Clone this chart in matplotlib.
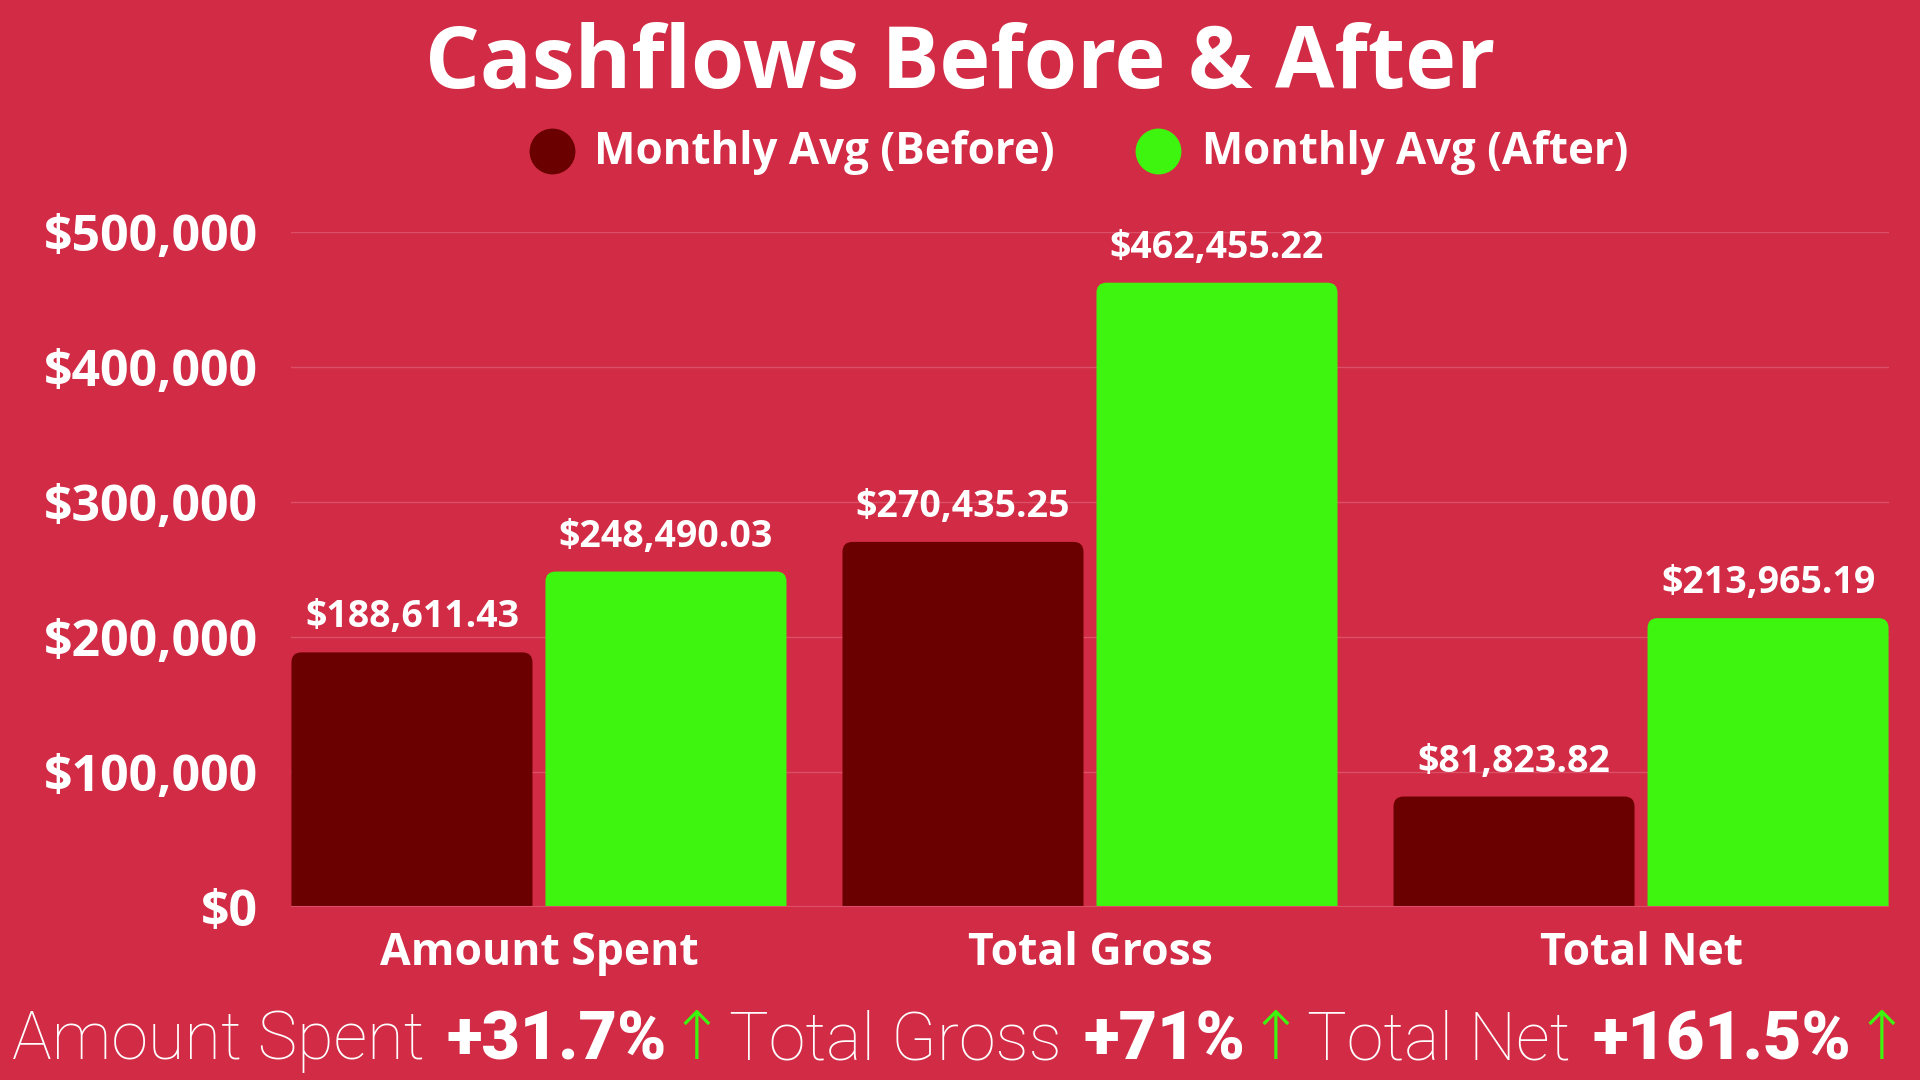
import matplotlib
matplotlib.use('Agg')
import matplotlib.pyplot as plt
from matplotlib.patches import FancyBboxPatch
from matplotlib.lines import Line2D
import numpy as np

# ---- data ----
categories = ['Amount Spent', 'Total Gross', 'Total Net']
before = [188611.43, 270435.25, 81823.82]
after = [248490.03, 462455.22, 213965.19]
series_names = ['Monthly Avg (Before)', 'Monthly Avg (After)']
pct_labels = ['+31.7%', '+71%', '+161.5%']
yticks = [0, 100000, 200000, 300000, 400000, 500000]
title = 'Cashflows Before & After'

BG = '#D22B45'
DARK = '#6B0000'
GREEN = '#3DF50F'
GRID = '#DB5068'
W, H = 1920, 1080

fig = plt.figure(figsize=(19.2, 10.8), dpi=100, facecolor=BG)
renderer = fig.canvas.get_renderer()

def fit(t, target_w):
    bb = t.get_window_extent(renderer)
    t.set_fontsize(t.get_fontsize() * target_w / bb.width)
    return t

ax = fig.add_axes([291 / W, 1 - 907 / H, 1598 / W, 675 / H])
ax.set_facecolor(BG)
x = np.arange(len(categories))
bw = 0.4374
off = 0.2305
ax.set_xlim(-0.45, 2.45)
ax.set_ylim(0, 500000)

bars_b = ax.bar(x - off, before, bw, color=DARK, zorder=2)
bars_a = ax.bar(x + off, after, bw, color=GREEN, zorder=2)

# rounded tops
rpx = 10
rx = rpx * 2.9 / 1598
ry = rpx * 500000 / 675
for bars, col in ((bars_b, DARK), (bars_a, GREEN)):
    for b in bars:
        bx, by, bwid, bh = b.get_x(), b.get_y(), b.get_width(), b.get_height()
        b.set_visible(False)
        p = FancyBboxPatch((bx, by - ry), bwid, bh + ry,
                           boxstyle=f"round,pad=0,rounding_size={rx}",
                           mutation_aspect=ry / rx, facecolor=col,
                           edgecolor='none', zorder=2)
        ax.add_patch(p)
        ax.annotate(f"${bh:,.2f}", (bx + bwid / 2, bh), xytext=(0, 18),
                    textcoords='offset points', ha='center', va='baseline',
                    color='white', fontsize=27, fontweight='bold',
                    family='Open Sans')

ax.set_yticks(yticks)
ax.set_yticklabels([f"${v:,.0f}" for v in yticks])
ax.yaxis.grid(True, color=GRID, lw=1)
ax.set_axisbelow(True)
for s in ax.spines.values():
    s.set_visible(False)
ax.axhline(0, color=GRID, lw=1.5, zorder=3)
ax.set_xticks(x)
ax.set_xticklabels(categories)
ax.tick_params(length=0, colors='white')
ax.tick_params(axis='y', pad=24)
ax.tick_params(axis='x', pad=17)
for lab in ax.get_yticklabels():
    lab.set_fontsize(36); lab.set_fontweight('bold'); lab.set_family('Open Sans')
for lab in ax.get_xticklabels():
    lab.set_fontsize(32); lab.set_fontweight('bold'); lab.set_family('Open Sans')

# title
t = fig.text(0.5, 1 - 88 / H, title, ha='center', va='baseline', color='white',
             fontsize=60, fontweight='bold', family='Open Sans')
fit(t, 1069)

# legend
leg = [(552, 594, 461, DARK, series_names[0]), (1158, 1202, 428, GREEN, series_names[1])]
for mx, tx, tw, col, name in leg:
    fig.add_artist(Line2D([mx / W], [1 - 151 / H], marker='o', markersize=32,
                          color=col, linestyle='none', transform=fig.transFigure))
    lt = fig.text(tx / W, 1 - 164 / H, name, ha='left', va='baseline', color='white',
                  fontsize=32, fontweight='bold', family='Open Sans')
    fit(lt, tw)

# bottom summary line
pieces = []
for i, c in enumerate(categories):
    pieces.append((c, 'light', 'white', 22, 'Roboto'))
    pieces.append((pct_labels[i], 'black', 'white', 2, 'Roboto'))
    pieces.append(('\u2191', 'light', GREEN, 4, 'Roboto'))
fs = 46
texts = []
for s, wt, col, gap, fam in pieces:
    tt = fig.text(0, 1 - 1059 / H, s, ha='left', va='baseline', color=col,
                  fontsize=fs, fontweight=wt, family=[fam, 'DejaVu Sans'])
    texts.append((tt, gap))
def total_w():
    return sum(tt.get_window_extent(renderer).width + g for tt, g in texts[:-1]) + \
        texts[-1][0].get_window_extent(renderer).width
tw = total_w()
gaps = sum(g for _, g in texts[:-1])
scale = (1898 - gaps) / (tw - gaps)
for tt, g in texts:
    tt.set_fontsize(fs * scale)
cx = 12
for tt, g in texts:
    tt.set_x(cx / W)
    cx += tt.get_window_extent(renderer).width + g

fig.savefig('out.png', dpi=100, facecolor=BG)
